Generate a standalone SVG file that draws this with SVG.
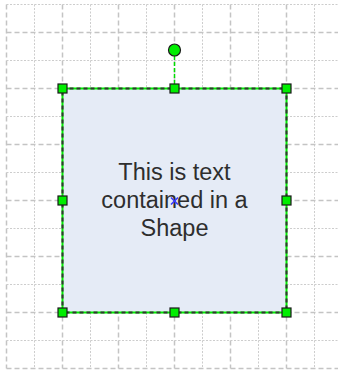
<svg xmlns="http://www.w3.org/2000/svg" width="338" height="374" viewBox="0 0 338 374">
<style>
.major{stroke:#c4c4c4;stroke-width:1.5;stroke-dasharray:5 3;fill:none}
.minor{stroke:#cdcdcd;stroke-width:1;stroke-dasharray:2 1.5;fill:none}
.handle{fill:#00ee00;stroke:#1a1a1a;stroke-width:1.2}
.label{font-family:"Liberation Sans",Arial,sans-serif;font-size:23.5px;fill:#2e2e2e;text-anchor:middle}
</style>
<rect width="338" height="374" fill="#ffffff"/>
<g id="grid">
  <path class="minor" d="M6.5 4.5H338M6.5 60.5H338M6.5 116.5H338M6.5 172.5H338M6.5 228.5H338M6.5 284.5H338M6.5 340.5H338"/>
  <path class="minor" d="M34.5 4.5V368.5M90.5 4.5V368.5M146.5 4.5V368.5M202.5 4.5V368.5M258.5 4.5V368.5M314.5 4.5V368.5"/>
  <path class="major" d="M6.5 32.5H338M6.5 88.5H338M6.5 144.5H338M6.5 200.5H338M6.5 256.5H338M6.5 312.5H338M6.5 368.5H338"/>
  <path class="major" d="M6.5 4.5V368.5M62.5 4.5V368.5M118.5 4.5V368.5M174.5 4.5V368.5M230.5 4.5V368.5M286.5 4.5V368.5"/>
</g>
<g id="shape">
  <rect x="62.5" y="88.5" width="224" height="224" fill="#e5ebf6"/>
  <rect x="62.5" y="88.5" width="224" height="224" fill="none" stroke="#00ee00" stroke-width="2"/>
  <rect x="62.5" y="88.5" width="224" height="224" fill="none" stroke="#333333" stroke-width="2" stroke-dasharray="4 3"/>
  <text class="label" x="174.5" y="180">This is text</text>
  <text class="label" x="174.5" y="208">contained in a</text>
  <text class="label" x="174.5" y="236">Shape</text>
  <path d="M171 197.5L178 204.5M178 197.5L171 204.5" stroke="#3a3aff" stroke-width="1.6"/>
</g>
<g id="connectors">
  <path d="M174.5 56V84" stroke="#00dd00" stroke-width="1.5" stroke-dasharray="4 2"/>
</g>
<g id="selection-handles">
  <circle class="handle" cx="174.5" cy="50" r="6"/>
  <rect class="handle" x="58" y="84" width="9" height="9"/>
  <rect class="handle" x="170" y="84" width="9" height="9"/>
  <rect class="handle" x="282" y="84" width="9" height="9"/>
  <rect class="handle" x="58" y="196" width="9" height="9"/>
  <rect class="handle" x="282" y="196" width="9" height="9"/>
  <rect class="handle" x="58" y="308" width="9" height="9"/>
  <rect class="handle" x="170" y="308" width="9" height="9"/>
  <rect class="handle" x="282" y="308" width="9" height="9"/>
</g>
</svg>
